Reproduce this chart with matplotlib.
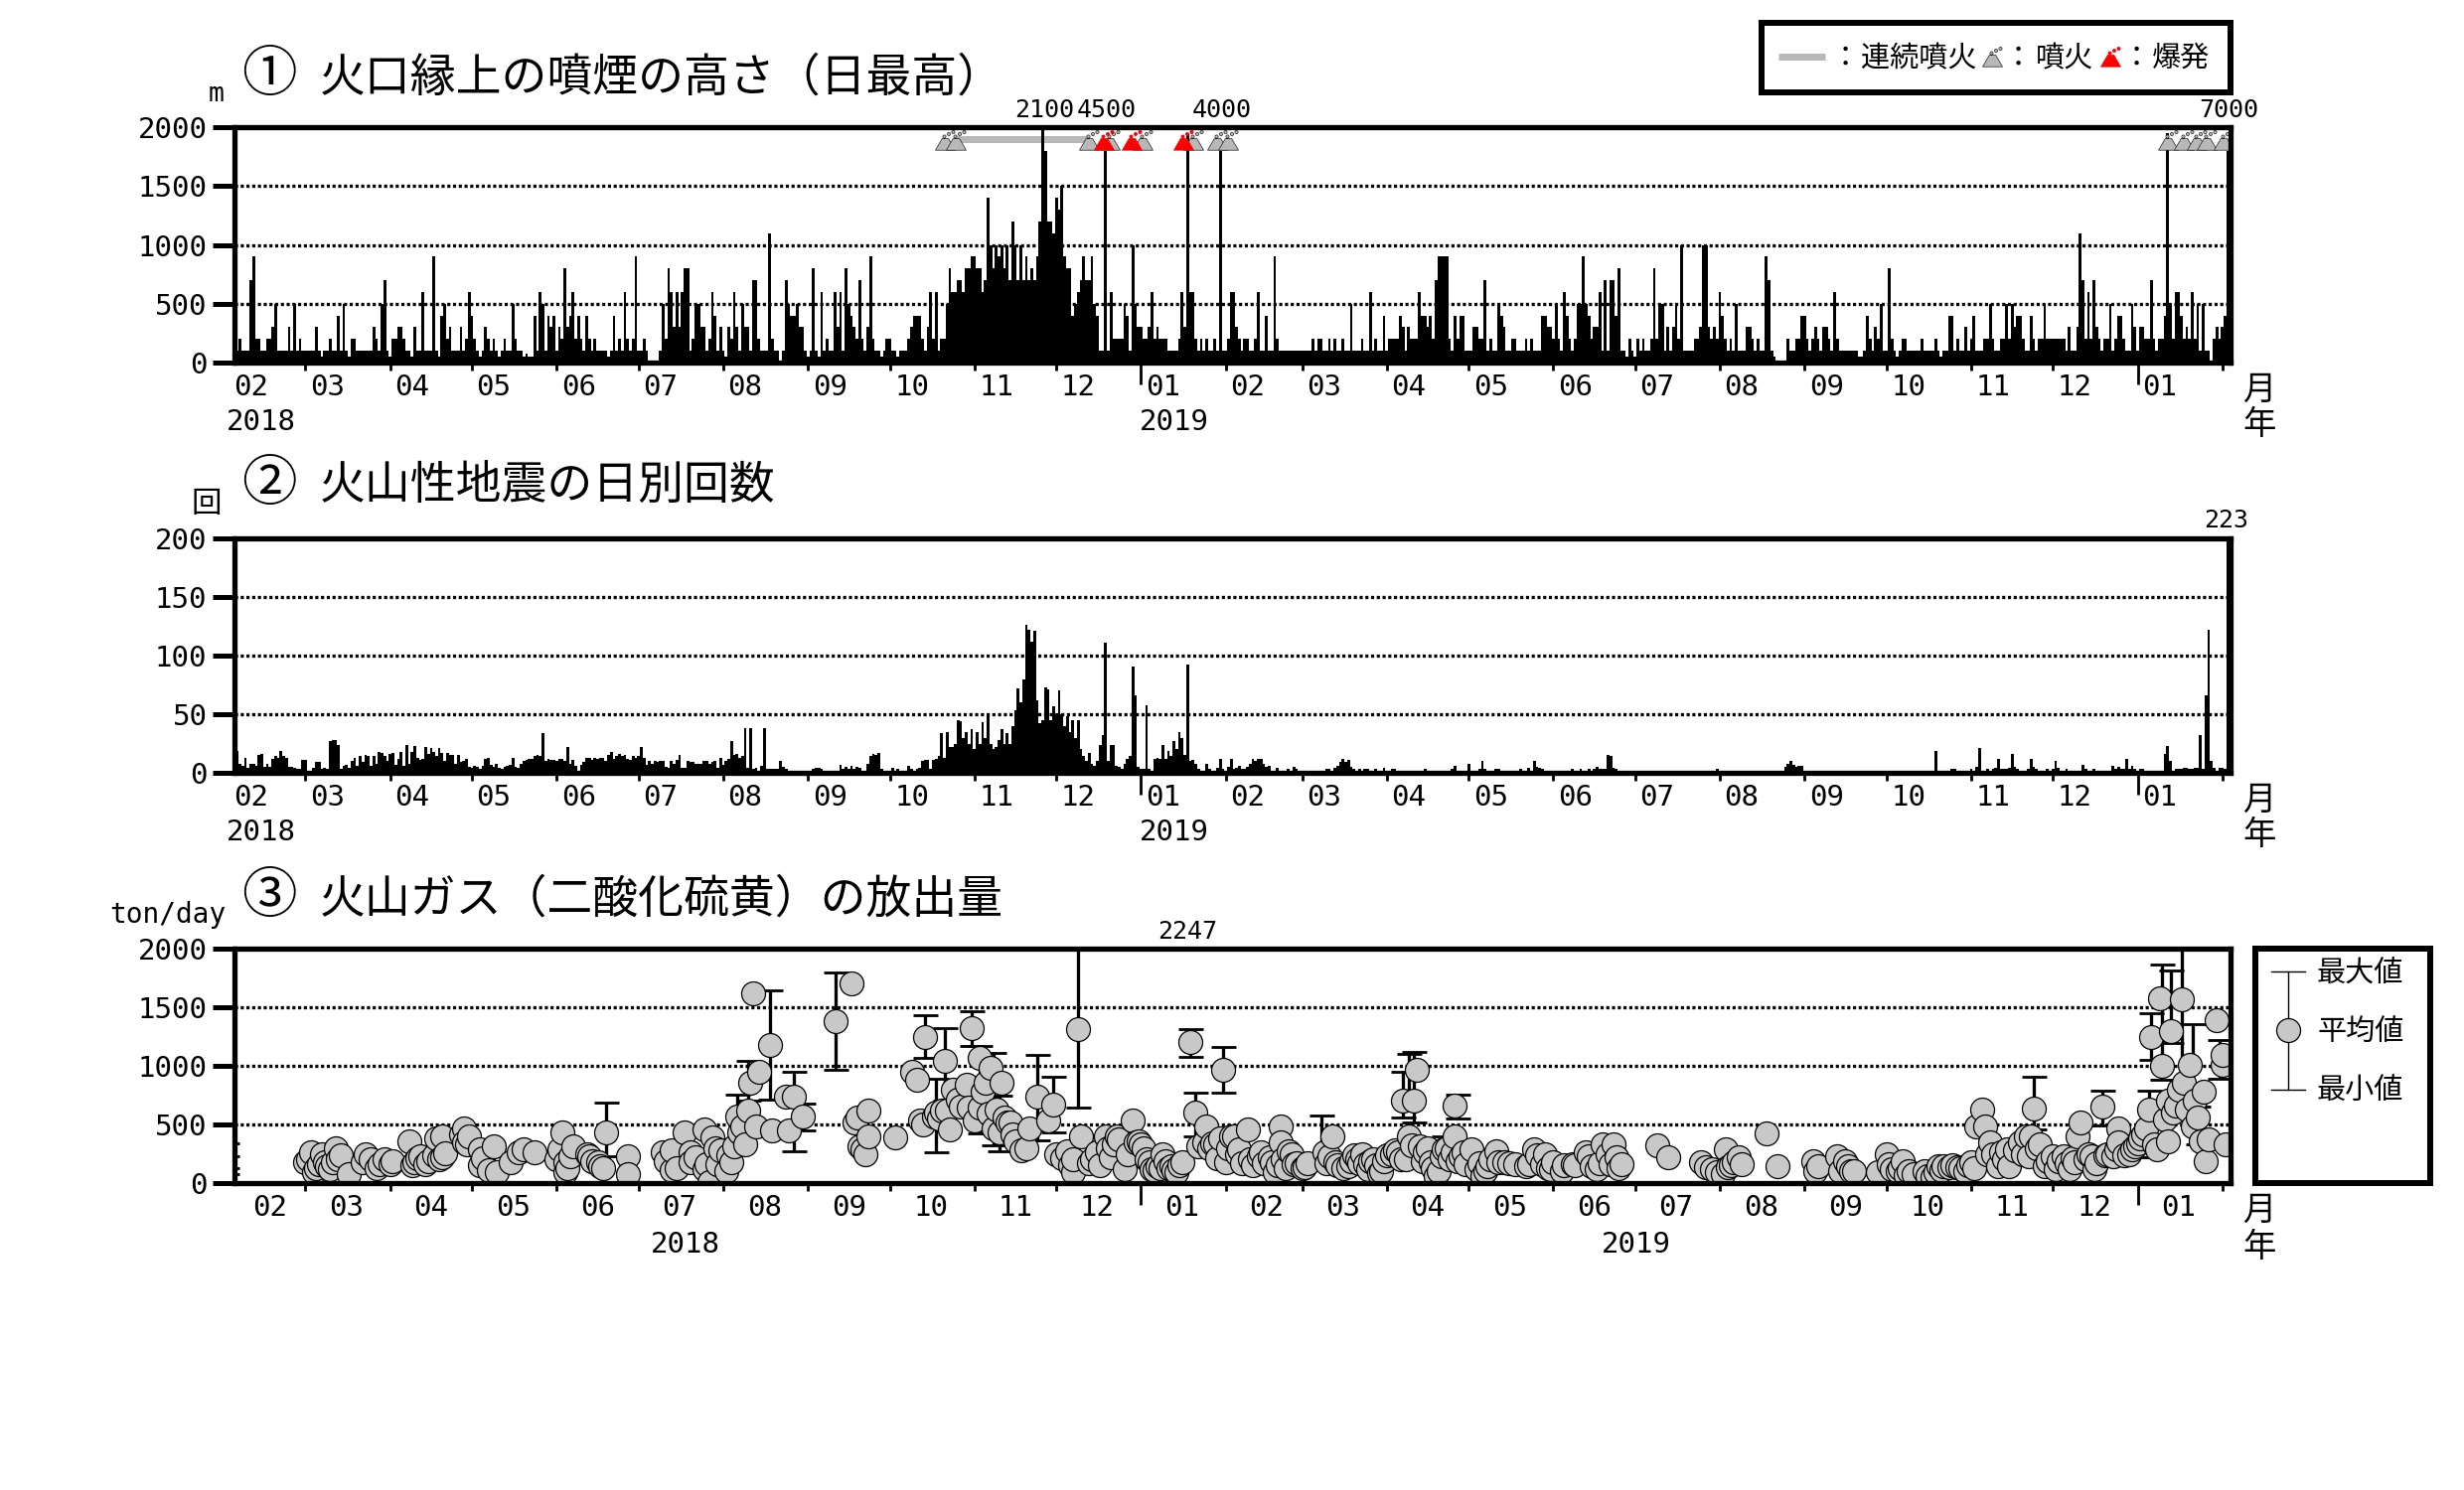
import numpy as np
import pandas as pd
import matplotlib
matplotlib.use("Agg")
import matplotlib.pyplot as plt
from matplotlib.path import Path

CJK = ['Noto Sans CJK JP', 'DejaVu Sans']
MONO = ['DejaVu Sans Mono', 'Noto Sans CJK JP']
plt.rcParams['font.family'] = CJK

# ---- daily maximum plume height (m), one value per day from 2018-02-03
plume_height = [
 100,100,200,100,100,100,700,900,200,200,
 100,100,200,200,300,500,100,100,100,100,
 300,100,500,100,200,100,100,100,100,100,
 300,100,50,100,100,200,100,100,400,100,
 500,100,50,200,200,100,100,100,100,100,
 100,300,200,100,500,700,100,50,200,200,
 300,300,200,100,100,50,300,100,100,600,
 100,100,100,900,100,50,400,500,200,300,
 100,100,100,300,100,200,600,400,200,100,
 50,100,300,200,100,200,100,50,100,200,
 100,100,500,200,100,100,50,80,50,50,
 400,100,600,500,100,400,300,400,100,300,
 200,800,300,400,600,200,400,200,100,400,
 200,100,200,100,100,100,100,50,100,400,
 100,200,100,600,200,100,200,900,100,100,
 200,100,0,0,0,0,100,500,200,800,
 600,300,600,300,600,800,800,100,200,500,
 500,300,300,100,200,600,400,100,300,100,
 50,300,200,600,300,100,500,300,300,100,
 700,700,200,100,100,100,1100,200,100,100,
 0,100,700,500,400,400,500,300,300,100,
 50,100,800,100,50,600,100,200,100,100,
 600,300,600,100,800,500,400,300,200,700,
 200,100,300,900,200,100,100,50,100,200,
 200,100,100,50,100,100,100,200,300,400,
 400,400,200,100,300,600,200,600,100,200,
 200,500,800,600,600,700,700,600,800,800,
 900,900,800,800,600,700,1400,1000,800,1000,
 900,1000,800,1000,700,1200,1000,700,1000,700,
 900,700,800,700,900,1200,2100,1800,1200,1200,
 1100,1400,1300,1500,900,800,800,400,500,600,
 700,900,700,700,900,500,400,100,100,4500,
 100,600,200,200,200,200,500,400,100,1000,
 500,300,300,200,200,300,600,200,300,200,
 200,200,100,100,100,100,200,600,300,1950,
 600,600,200,100,200,100,200,100,100,200,
 100,4000,100,100,200,600,600,300,200,100,
 200,200,100,100,200,600,100,100,400,100,
 100,900,200,100,100,100,100,100,100,100,
 100,100,100,100,100,200,100,200,200,100,
 100,200,100,200,100,100,200,100,100,500,
 100,100,100,200,100,100,600,100,200,100,
 100,400,100,200,200,200,200,400,300,100,
 300,200,200,200,600,400,400,300,400,200,
 700,900,900,900,900,200,100,400,200,400,
 400,100,100,100,300,300,200,200,700,100,
 200,100,100,500,400,300,100,100,200,200,
 100,100,100,200,100,200,100,100,100,400,
 400,300,300,200,500,200,100,600,400,200,
 100,200,500,500,900,500,400,200,300,300,
 600,100,700,100,700,700,400,800,100,100,
 50,200,100,50,200,100,200,100,100,200,
 800,200,500,500,100,300,100,300,500,200,
 1000,100,100,100,100,200,200,300,1000,1000,
 300,200,300,200,600,400,200,100,200,100,
 500,100,100,100,300,300,200,100,200,100,
 100,900,700,100,50,0,0,0,0,200,
 100,100,200,200,400,400,200,100,200,300,
 200,100,300,300,200,100,600,200,100,100,
 100,100,100,100,100,50,50,100,400,200,
 100,300,200,500,100,100,800,200,100,50,
 100,200,200,100,100,100,100,100,200,100,
 100,100,100,200,100,50,100,100,400,400,
 100,200,100,100,300,100,200,400,100,100,
 100,200,200,500,200,100,100,200,200,500,
 200,500,300,400,400,200,100,100,400,200,
 100,200,200,500,200,200,200,200,200,200,
 200,100,300,100,100,300,1100,700,200,600,
 200,700,300,200,100,200,200,500,100,200,
 400,400,200,100,100,500,300,100,300,300,
 200,200,700,200,100,200,200,400,1950,500,
 200,600,600,400,200,300,200,600,200,500,
 100,500,100,100,0,200,300,200,300,400,
 7000]

# ---- daily count of volcanic earthquakes
quake_count = [
 19,19,8,6,13,4,8,8,6,15,
 16,5,8,5,12,14,13,19,14,13,
 5,5,4,3,3,11,11,2,2,4,
 9,9,3,4,3,27,28,28,24,3,
 6,7,4,10,13,6,14,9,15,14,
 6,14,8,18,17,14,10,16,17,7,
 12,18,6,24,8,18,23,13,11,12,
 22,16,21,18,14,21,17,10,17,15,
 15,8,15,9,10,12,5,4,6,5,
 3,6,12,13,7,5,8,4,3,5,
 6,7,13,5,4,8,10,11,12,12,
 14,15,14,34,10,12,11,11,10,12,
 12,10,22,8,11,6,2,7,9,13,
 13,11,13,12,13,13,10,15,18,12,
 14,16,14,15,12,11,14,13,14,22,
 13,7,10,8,10,9,10,10,5,4,
 10,8,11,15,4,4,10,9,9,8,
 8,8,10,10,8,9,10,4,13,7,
 10,12,27,15,16,13,14,38,4,38,
 3,4,2,6,38,3,3,3,3,3,
 10,5,3,2,2,1,2,2,2,2,
 2,1,3,4,4,3,2,1,1,2,
 1,2,7,3,5,3,6,3,5,4,
 2,1,8,14,16,15,17,3,1,1,
 2,4,2,3,1,2,2,6,3,2,
 3,4,10,11,11,3,11,12,14,34,
 13,35,22,22,25,45,44,30,35,25,
 37,20,35,25,43,30,48,25,20,22,
 28,37,25,34,25,40,53,72,60,80,
 126,122,112,121,62,42,45,73,71,45,
 57,50,70,50,40,48,35,45,30,45,
 20,14,10,17,8,6,10,24,32,111,
 10,24,24,6,5,3,8,12,14,91,
 66,5,3,3,58,3,2,12,13,12,
 24,12,19,14,27,20,35,30,15,92,
 10,11,8,3,2,2,8,3,1,2,
 4,12,3,2,5,12,3,4,6,3,
 3,5,8,12,10,12,12,8,5,6,
 2,2,4,2,2,1,3,1,5,3,
 2,0,0,0,0,0,0,0,0,0,
 3,3,0,4,6,9,12,9,11,5,
 3,2,3,1,3,3,1,2,3,0,
 1,4,0,0,3,3,1,0,2,0,
 0,2,0,0,0,0,3,0,0,0,
 0,0,0,0,2,0,3,6,2,2,
 2,2,8,0,0,2,3,10,3,2,
 0,0,3,3,0,0,0,0,2,2,
 2,3,2,0,4,2,10,5,4,3,
 2,1,0,0,2,2,0,2,0,0,
 3,1,0,3,0,0,3,2,3,5,
 3,3,3,15,14,4,3,2,2,2,
 1,2,0,0,0,0,0,0,0,0,
 0,0,0,0,0,0,2,0,0,0,
 0,0,0,0,0,0,0,2,0,0,
 0,0,0,3,2,0,2,2,1,0,
 0,0,0,0,0,0,0,0,0,0,
 0,2,2,2,2,2,0,0,5,8,
 10,7,5,6,6,0,0,0,0,0,
 0,0,0,0,0,0,0,0,0,0,
 0,0,0,0,0,0,0,0,0,0,
 0,0,0,0,0,0,0,2,0,0,
 0,0,0,0,0,0,2,0,0,0,
 2,0,0,19,0,0,0,0,0,3,
 3,2,0,0,0,0,3,0,5,21,
 0,0,3,0,3,4,12,3,3,3,
 4,16,5,3,2,2,0,3,12,5,
 3,0,0,0,3,0,3,10,4,2,
 2,3,0,0,0,0,0,7,3,2,
 0,3,0,0,0,0,0,0,6,3,
 5,3,3,12,3,6,3,0,3,3,
 0,0,0,0,0,0,0,16,23,10,
 2,3,3,3,4,4,3,3,4,4,
 32,3,66,122,10,4,2,4,4,3,
 223]

# ---- SO2 emission: day offset and daily mean (ton/day)
gas_day = [26,28,29,31,32,34,36,37,38,42,48,50,52,55,57,64,66,68,71,74,75,76,76,83,84,84,90,90,95,96,
 101,106,110,119,120,121,121,124,129,130,134,136,144,144,157,160,160,165,167,167,172,172,174,175,177,180,182,183,184,186,
 187,188,189,190,192,196,197,202,203,205,208,220,226,227,229,230,232,232,242,248,250,251,253,257,259,260,262,265,268,269,
 270,271,273,273,275,277,279,280,281,284,285,290,291,294,298,300,301,305,307,307,309,310,314,319,321,323,326,324,329,330,
 333,334,338,340,343,345,347,350,352,355,356,359,362,363,365,366,368,371,372,375,380,381,383,383,386,388,392,399,402,403,
 408,413,414,417,420,424,428,432,433,430,429,434,437,441,443,447,447,445,449,453,457,459,462,465,469,473,476,480,482,486,
 490,495,499,501,504,505,508,521,525,537,539,545,546,547,551,561,565,578,579,587,588,591,593,602,605,609,611,613,619,622,
 624,628,631,634,636,640,638,641,643,646,649,650,656,657,659,661,663,666,670,672,676,675,679,681,684,686,690,690,694,699,
 700,701,702,704,706,705,707,708,709,708,712,713,714,716,715,719,721,722,726,728,728,729]
gas_mean = [175,260,90,160,245,147,175,295,205,80,245,205,125,205,160,360,175,230,190,385,205,218,400,415,470,345,290,150,315,90,
 175,290,265,290,430,90,180,315,245,230,147,435,230,75,260,113,283,430,260,180,120,458,10,388,160,105,175,315,570,487,
 330,620,855,1620,950,1180,445,740,445,735,570,1380,1700,515,315,290,615,400,388,950,880,530,1250,600,615,1040,458,713,840,640,
 1320,530,640,1065,855,980,630,430,860,515,415,295,470,740,530,670,245,275,90,205,1310,400,205,400,218,400,120,375,530,345,
 300,205,147,245,147,90,175,1200,600,345,487,330,970,175,400,400,290,460,205,230,175,90,487,345,275,160,133,260,400,175,
 147,245,160,205,105,245,700,707,968,400,205,315,300,105,290,657,400,205,230,290,60,147,275,175,160,147,290,245,120,105,
 160,260,120,330,160,330,160,320,218,175,133,75,290,133,218,420,147,190,105,232,105,147,105,90,245,105,190,105,105,48,
 147,133,133,105,175,630,487,487,345,147,290,147,400,230,633,330,147,230,230,120,515,400,245,120,650,245,470,345,245,415,
 470,630,1250,290,1000,1580,540,360,1300,700,800,1570,855,1010,630,560,780,190,1390,1010,1095,330]

# Further overlapping measurements read from the dense clusters
gas_day_more = [27,30,33,35,39,47,53,58,65,67,70,73,77,85,86,91,93,104,118,122,123,131,133,135,158,162,169,173,176,178,
 181,185,191,228,231,252,256,258,261,263,266,274,276,278,282,283,286,288,303,306,313,316,317,320,322,327,331,332,335,336,
 337,339,341,342,344,346,353,357,358,360,361,364,367,369,373,376,377,379,382,384,385,387,389,391,393,400,401,404,406,409,
 410,411,412,415,416,418,419,421,422,425,426,427,431,435,436,438,439,440,442,444,446,448,450,451,455,456,458,460,463,467,
 474,477,479,481,483,487,491,496,497,500,503,506,507,541,543,549,548,552,580,590,592,606,607,610,612,615,620,623,625,626,
 629,632,635,637,642,644,647,648,652,654,655,658,660,664,667,668,671,673,674,678,680,682,685,688,689,692,695,696,697,698,
 703,710,711,717,718,720,723]
gas_mean_more = [200,130,180,120,240,180,165,185,150,210,165,235,255,330,395,210,110,260,200,130,230,190,180,130,190,130,220,160,300,280,
 240,430,480,560,250,500,570,550,620,800,650,780,590,470,560,520,360,280,210,150,170,260,150,300,330,250,360,330,180,120,
 110,130,190,130,110,150,310,300,340,210,380,300,250,170,150,260,170,220,150,200,130,250,170,130,170,170,225,150,130,190,
 240,200,170,120,190,150,85,190,240,280,260,200,320,190,260,180,130,60,230,300,260,190,260,160,120,170,100,200,180,170,
 165,240,160,130,180,150,150,230,140,170,250,220,130,120,90,180,150,160,140,190,100,160,120,130,70,80,60,90,110,140,
 150,130,150,130,250,250,260,200,280,350,250,400,300,190,120,190,170,210,180,200,230,170,240,230,290,240,290,310,340,380,
 330,600,660,480,700,360,370]

# SO2 range (ton/day): day offset, daily maximum, daily minimum
range_day = [-3,-3,136,184,188,196,205,208,220,253,257,260,270,273,278,280,294,300,309,350,352,362,398,428,430,432,443,448,
 659,684,701,702,706,709,713,717,719,727]
range_max = [340,125,685,755,1040,1640,948,680,1797,1430,890,1320,1463,1170,1110,750,1090,905,2247,1313,770,1160,580,948,1100,1118,400,755,
 905,792,792,1450,1865,1810,2050,1358,650,1222]
range_min = [225,75,230,245,700,715,275,445,962,1067,265,705,1170,420,325,275,368,430,640,1075,400,770,160,563,650,515,250,552,
 458,495,218,1052,880,1194,826,798,330,888]

# Event dates (day offset) and continuous eruption span
eruption_days = [260,264,313,320.4,332.7,351,360,364,708,714,718.6,722.3,728.3]
explosion_days = [318.5,328.4,347.6]
continuous_span = [264,312.5]

FIRST_DAY = pd.Timestamp('2018-02-03')
N_DAYS = 731
month_starts = pd.date_range('2018-03-01', '2020-02-01', freq='MS')
label_months = pd.date_range('2018-02-01', '2020-01-01', freq='MS')

W, H = 2480, 1500
PX = 72 / 100
fig = plt.figure(figsize=(W / 100, H / 100), dpi=100, facecolor='white')


def T(x, y, s, family=CJK, size=21, ha='center', va='center', **kw):
    return fig.text(x / W, 1 - y / H, s, family=family, fontsize=size, ha=ha, va=va, **kw)


def to_day(dates):
    return [(pd.Timestamp(d) - FIRST_DAY).days for d in dates]


def panel(top, bottom, ymax, step, label_shift):
    ax = fig.add_axes([236 / W, 1 - bottom / H, 2009 / W, (bottom - top) / H])
    ax.set_xlim(0, N_DAYS)
    ax.set_ylim(0, ymax)
    for s in ax.spines.values():
        s.set_linewidth(5.3 * PX)
        s.set_zorder(10)
    yt = list(range(0, ymax + 1, step))
    ax.set_yticks(yt)
    ax.set_yticklabels([str(v) for v in yt], family=MONO, fontsize=21)
    ax.tick_params(axis='y', length=22 * PX, width=5 * PX, pad=4)
    ax.set_xticks(to_day(month_starts))
    ax.set_xticklabels([])
    ax.tick_params(axis='x', which='major', length=8 * PX, width=2.8 * PX)
    for tk, d in zip(ax.xaxis.get_major_ticks(), month_starts):
        if d.month == 1:
            tk.tick1line.set_markersize(22 * PX)
    ax.set_xticks([to_day([d])[0] + label_shift for d in label_months], minor=True)
    ax.set_xticklabels([f'{d.month:02d}' for d in label_months], minor=True, family=MONO, fontsize=21)
    ax.tick_params(axis='x', which='minor', length=0, pad=8)
    for v in yt[1:-1]:
        ax.axhline(v, color='black', lw=3.3 * PX, ls=(0, (0.95, 0.8)), dash_capstyle='butt', zorder=1)
    return ax


def volcano_marker():
    cone = Path([(-10, -6.7), (10, -6.7), (3.2, 5), (-3.2, 5), (-10, -6.7)],
                [Path.MOVETO, Path.LINETO, Path.LINETO, Path.LINETO, Path.CLOSEPOLY])
    puffs = []
    for cx, cy in [(-1, 7), (3.5, 9.5), (8, 11.5)]:
        c = Path.unit_circle()
        puffs.append(Path(c.vertices * 1.6 + [cx, cy], c.codes))
    m = Path.make_compound_path(cone, *puffs)
    return m, 2 * np.abs(m.vertices).max()


MARK, MARK_PX = volcano_marker()

# ------------------------- panel 1
ax1 = panel(128, 365, 2000, 500, 8)
h = np.array(plume_height, dtype=float)
days = np.arange(len(h))
# Values past 2100 stop under the event symbols and are written above the frame.
ax1.bar(days, np.where(h > 2100, 1800, h), width=1.0, color='black', linewidth=0,
        antialiased=False, zorder=3)
ax1.plot(continuous_span, [1899, 1899], color='#b8b8b8', lw=7 * PX, solid_capstyle='butt', zorder=2)
ax1.plot(eruption_days, [1865] * len(eruption_days), ls='none', marker=MARK, ms=MARK_PX * PX,
         mfc='#b8b8b8', mec='#222222', mew=0.5, zorder=4)
ax1.plot(explosion_days, [1865] * len(explosion_days), ls='none', marker=MARK, ms=MARK_PX * PX,
         mfc='red', mec='red', mew=0.5, zorder=5)
for d, v in zip(days, h):
    if v > 2000:
        ax1.annotate(str(int(v)), (min(d + 0.5, 730.9), 1), xycoords=ax1.get_xaxis_transform(),
                     xytext=(0, 17 / 100 * 72), textcoords='offset points', ha='center', va='center',
                     family=MONO, fontsize=18, annotation_clip=False)

# ------------------------- panel 2
ax2 = panel(542, 778, 200, 50, 8)
q = np.array(quake_count, dtype=float)
ax2.bar(np.arange(len(q)), q, width=1.0, color='black', linewidth=0, antialiased=False, zorder=3)
T(2241, 524, str(int(q.max())), family=MONO, size=18)

# ------------------------- panel 3
ax3 = panel(955, 1191, 2000, 500, 15)
rd = np.array(range_day, float)
rmax = np.array(range_max, float)
rmin = np.array(range_min, float)
mid = (rmax + rmin) / 2
ax3.errorbar(rd, mid, yerr=[mid - rmin, rmax - mid], ls='none', color='black', elinewidth=3.3 * PX,
             capsize=12.5 * PX, capthick=2.8 * PX, zorder=2)
all_day = np.array(gas_day + gas_day_more, float)
all_mean = np.array(gas_mean + gas_mean_more, float)
order = np.argsort(all_day, kind='stable')
ax3.plot(all_day[order], all_mean[order], ls='none', marker='o', ms=24 * PX, mfc='#c8c8c8',
         mec='black', mew=0.9, zorder=3)
T(1195, 938, str(max(range_max)), family=MONO, size=18)

# ------------------------- headings, units, axis names
for cy, num, title in [(76, '①', '火口縁上の噴煙の高さ（日最高）'),
                       (488, '②', '火山性地震の日別回数'),
                       (903, '③', '火山ガス（二酸化硫黄）の放出量')]:
    T(271, cy, num, size=40)
    T(322, cy + 2, title, size=33, ha='left')
T(218, 95, 'm', family=MONO, size=19)
T(208, 507, '回', size=22)
T(169, 921, 'ton/day', family=MONO, size=20)
for yr_y, mon_y, xs in [(425, 392, (263, 1182)), (838, 805, (263, 1182)), (1253, 1218, (690, 1647))]:
    T(xs[0], yr_y, '2018', family=MONO, size=21)
    T(xs[1], yr_y, '2019', family=MONO, size=21)
    T(2274, mon_y, '月', size=24)
    T(2274, yr_y + 2, '年', size=24)

# ------------------------- legend boxes on a pixel-scaled layer
ov = fig.add_axes([0, 0, 1, 1], zorder=20)
ov.set_xlim(0, W)
ov.set_ylim(H, 0)
ov.axis('off')
ov.patch.set_alpha(0)
ov.plot([1773, 2245, 2245, 1773, 1773], [23, 23, 93, 93, 23], color='black', lw=6 * PX, solid_joinstyle='miter')
ov.plot([1790, 1837], [57, 57], color='#b8b8b8', lw=7 * PX, solid_capstyle='butt')
T(1857, 59, '：', size=21, ha='center')
T(1873, 59, '連続噴火', size=21, ha='left')
ov.plot([2005], [60], ls='none', marker=MARK, ms=MARK_PX * PX, mfc='#b8b8b8', mec='#222222', mew=0.5)
T(2031, 59, '：', size=21)
T(2049, 59, '噴火', size=21, ha='left')
ov.plot([2124], [60], ls='none', marker=MARK, ms=MARK_PX * PX, mfc='red', mec='red', mew=0.5)
T(2150, 59, '：', size=21)
T(2166, 59, '爆発', size=21, ha='left')

ov.plot([2270, 2446, 2446, 2270, 2270], [955, 955, 1191, 1191, 955], color='black', lw=6 * PX,
        solid_joinstyle='miter')
ov.plot([2302.5, 2302.5], [978, 1097], color='black', lw=1)
ov.plot([2286, 2320], [978, 978], color='black', lw=1)
ov.plot([2286, 2320], [1097, 1097], color='black', lw=1)
ov.plot([2302.5], [1037], ls='none', marker='o', ms=24 * PX, mfc='#c8c8c8', mec='black', mew=0.9)
T(2332, 981, '最大値', size=21, ha='left')
T(2332, 1039, '平均値', size=21, ha='left')
T(2332, 1098, '最小値', size=21, ha='left')

fig.savefig('out.png', dpi=100, facecolor='white')
